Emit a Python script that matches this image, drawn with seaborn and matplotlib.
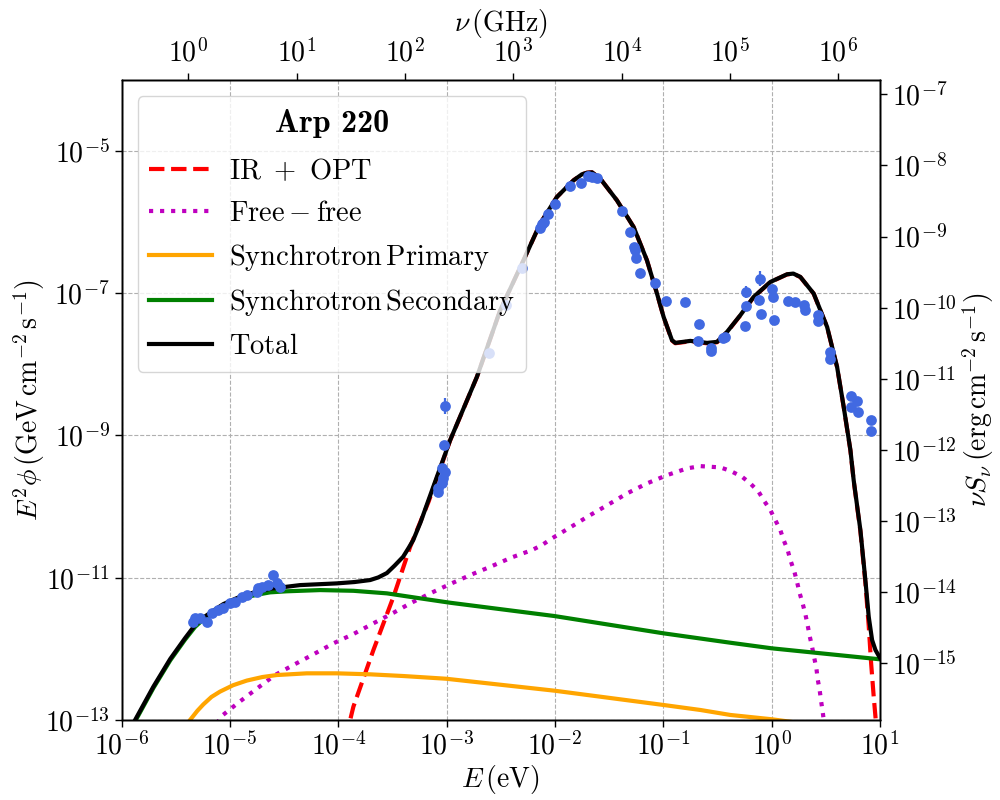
import numpy as np
import pandas as pd
import matplotlib
matplotlib.use("Agg")
import matplotlib.pyplot as plt
from matplotlib.ticker import FixedLocator, FuncFormatter, NullLocator
from matplotlib.font_manager import FontProperties
from matplotlib.offsetbox import DrawingArea
import seaborn as sns

# ---------------- values (log10 units) ----------------
# Total model
total_logE = [-6.0, -5.875, -5.706, -5.55, -5.414, -5.321, -5.245, -5.15, -5.060, -4.95,
              -4.844, -4.721, -4.629, -4.475, -4.352, -4.013, -3.85, -3.705, -3.63, -3.551,
              -3.48, -3.401, -3.35, -3.308, -3.24, -3.167, -2.967, -2.720, -2.505, -2.290,
              -2.136, -1.982, -1.828, -1.751, -1.705, -1.658, -1.582, -1.428, -1.274, -1.151,
              -1.058, -0.997, -0.920, -0.889, -0.751, -0.596, -0.504, -0.412, -0.289, -0.166,
              -0.012, 0.142, 0.200, 0.265, 0.388, 0.512, 0.604, 0.665, 0.727, 0.757,
              0.819, 0.865, 0.896, 0.927, 0.958, 1.0]
total_logF = [-13.35, -13.0, -12.531, -12.14, -11.85, -11.664, -11.560, -11.46, -11.37, -11.295,
              -11.23, -11.19, -11.155, -11.126, -11.103, -11.079, -11.06, -11.032, -10.995, -10.934,
              -10.83, -10.705, -10.58, -10.471, -10.22, -9.909, -9.066, -8.177, -7.240, -6.538,
              -6.022, -5.649, -5.414, -5.330, -5.308, -5.302, -5.390, -5.695, -6.070, -6.538,
              -7.006, -7.334, -7.661, -7.699, -7.671, -7.699, -7.685, -7.545, -7.310, -7.053,
              -6.843, -6.735, -6.725, -6.772, -7.006, -7.475, -8.037, -8.598, -9.206, -9.628,
              -10.330, -11.032, -11.548, -11.875, -12.015, -12.128]

# IR + OPT
ir_logE = [-3.95, -3.890, -3.860, -3.675, -3.490, -3.336, -3.167, -2.967, -2.720, -2.505,
           -2.290, -2.136, -1.982, -1.828, -1.751, -1.705, -1.658, -1.582, -1.428, -1.274,
           -1.151, -1.058, -0.997, -0.920, -0.889, -0.751, -0.596, -0.504, -0.412, -0.289,
           -0.166, -0.012, 0.142, 0.200, 0.265, 0.388, 0.512, 0.604, 0.665, 0.727,
           0.757, 0.819, 0.865, 0.896, 0.918, 0.942, 0.958, 0.975]
ir_logF = [-13.27, -13.0, -12.812, -12.015, -11.267, -10.565, -9.935, -9.070, -8.178, -7.241,
           -6.538, -6.022, -5.649, -5.414, -5.330, -5.308, -5.302, -5.390, -5.695, -6.070,
           -6.538, -7.006, -7.336, -7.665, -7.704, -7.677, -7.705, -7.690, -7.549, -7.313,
           -7.055, -6.845, -6.737, -6.727, -6.774, -7.008, -7.478, -8.040, -8.602, -9.212,
           -9.636, -10.345, -11.068, -11.680, -12.200, -12.671, -12.952, -13.25]

# Free-free
ff_logE = [-5.12, -5.075, -4.922, -4.752, -4.583, -4.414, -4.229, -4.044, -3.860, -3.675,
           -3.490, -3.336, -3.151, -2.967, -2.782, -2.597, -2.397, -2.212, -2.120, -2.028,
           -1.859, -1.690, -1.505, -1.335, -1.151, -0.966, -0.781, -0.658, -0.474, -0.381,
           -0.273, -0.197, -0.120, -0.074, -0.012, 0.034, 0.080, 0.111, 0.148, 0.173,
           0.210, 0.234, 0.259, 0.286, 0.311, 0.332, 0.351, 0.373, 0.394, 0.413,
           0.425, 0.443, 0.456, 0.471, 0.485]
ff_logF = [-13.05, -12.942, -12.756, -12.559, -12.367, -12.226, -12.076, -11.921, -11.791, -11.640,
           -11.492, -11.360, -11.219, -11.088, -10.962, -10.846, -10.713, -10.611, -10.541, -10.447,
           -10.292, -10.133, -9.969, -9.815, -9.674, -9.558, -9.463, -9.431, -9.449, -9.497,
           -9.581, -9.674, -9.792, -9.909, -10.049, -10.190, -10.330, -10.471, -10.611, -10.751,
           -10.916, -11.056, -11.219, -11.360, -11.510, -11.664, -11.819, -11.969, -12.132, -12.272,
           -12.427, -12.577, -12.728, -12.882, -13.05]

# Synchrotron primary
sp_logE = [-5.42, -5.368, -5.30, -5.245, -5.17, -5.091, -4.97, -4.844, -4.70, -4.567,
           -4.290, -4.013, -3.705, -3.398, -3.004, -2.004, -0.997, -0.658, -0.381, 0.004, 0.3]
sp_logF = [-13.12, -13.0, -12.87, -12.78, -12.675, -12.60, -12.51, -12.445, -12.395, -12.367,
           -12.343, -12.343, -12.357, -12.381, -12.419, -12.587, -12.788, -12.858, -12.928, -12.989,
           -13.05]

# Synchrotron secondary
ss_logE = [-6.0, -5.875, -5.706, -5.55, -5.414, -5.321, -5.245, -5.15, -5.06, -4.95,
           -4.844, -4.721, -4.629, -4.475, -4.167, -3.860, -3.551, -3.244, -2.967, -2.004,
           -0.997, -0.381, 0.004, 1.0]
ss_logF = [-13.37, -13.02, -12.55, -12.16, -11.87, -11.69, -11.585, -11.49, -11.40, -11.33,
           -11.27, -11.23, -11.205, -11.19, -11.173, -11.183, -11.219, -11.289, -11.351, -11.538,
           -11.781, -11.913, -11.992, -12.146]

# Observed data points (log10 E [eV], log10 E^2 phi [GeV cm^-2 s^-1], error in dex)
obs_logE = [-5.337, -5.321, -5.275, -5.213, -5.167, -5.106, -5.060, -4.998, -4.952, -4.890,
            -4.844, -4.752, -4.737, -4.705, -4.645, -4.598, -4.567, -4.536,
            -3.019, -3.022, -3.043, -3.013, -3.029, -3.043, -3.075, -3.082,
            -2.604, -2.450, -2.305,
            -2.142, -2.120, -2.099, -2.068, -1.997, -1.859, -1.757, -1.699, -1.658, -1.612,
            -1.385, -1.305, -1.274, -1.259, -1.256, -1.212, -1.081, -0.977, -0.803, -0.672,
            -0.681, -0.560, -0.560, -0.449, -0.428, -0.249, -0.240, -0.240, -0.111, -0.116,
            -0.098, 0.004, 0.013, 0.018, 0.148, 0.219, 0.295, 0.305, 0.425, 0.425,
            0.542, 0.542, 0.736, 0.791, 0.736, 0.794, 0.918, 0.918]
obs_logF = [-11.618, -11.570, -11.570, -11.618, -11.500, -11.454, -11.430, -11.360, -11.337, -11.267,
            -11.243, -11.197, -11.149, -11.126, -11.103, -10.962, -11.070, -11.126,
            -8.588, -9.136, -9.463, -9.511, -9.604, -9.674, -9.744, -9.796,
            -7.848, -7.170, -6.640,
            -6.079, -6.032, -6.000, -5.892, -5.751, -5.499, -5.447, -5.358, -5.368, -5.376,
            -5.850, -6.145, -6.351, -6.397, -6.500, -6.711, -6.864, -7.114, -7.131, -7.437,
            -7.676, -7.764, -7.812, -7.624, -7.615, -7.465, -7.174, -6.983, -6.795, -7.096,
            -7.287, -6.935, -7.058, -7.371, -7.110, -7.124, -7.170, -7.230, -7.310, -7.390,
            -7.826, -7.928, -8.444, -8.514, -8.607, -8.669, -8.789, -8.944]
obs_err_dex = [0.0] * 18 + [0.11] + [0.0] * 7 + [0.0] * 3 + \
              [0.0] * 27 + [0.08, 0.11] + [0.0] * 19

# Axis ticks / labels
x_ticks_eV = [1e-6, 1e-5, 1e-4, 1e-3, 1e-2, 1e-1, 1e0, 1e1]
y_ticks_GeV = [1e-13, 1e-11, 1e-9, 1e-7, 1e-5]
top_ticks_GHz = [1e0, 1e1, 1e2, 1e3, 1e4, 1e5, 1e6]
right_ticks_erg = [1e-15, 1e-14, 1e-13, 1e-12, 1e-11, 1e-10, 1e-9, 1e-8, 1e-7]
xlim_eV = (1e-6, 1e1)
ylim_GeV = (1e-13, 1e-4)
EV_TO_GHZ = 2.417989e5
GEV_TO_ERG = 1.602177e-3

legend_title = 'Arp 220'
labels = [r'$\mathrm{IR\ +\ OPT}$', r'$\mathrm{Free-free}$',
          r'$\mathrm{Synchrotron\,Primary}$', r'$\mathrm{Synchrotron\,Secondary}$',
          r'$\mathrm{Total}$']

# ---------------- build tables ----------------
def curve(logE, logF):
    return pd.DataFrame({'E': 10 ** np.asarray(logE), 'F': 10 ** np.asarray(logF)})

df_ir = curve(ir_logE, ir_logF)
df_ff = curve(ff_logE, ff_logF)
df_sp = curve(sp_logE, sp_logF)
df_ss = curve(ss_logE, ss_logF)
df_tot = curve(total_logE, total_logF)
obs = pd.DataFrame({'E': 10 ** np.asarray(obs_logE), 'F': 10 ** np.asarray(obs_logF),
                    'err': np.asarray(obs_err_dex)})

# ---------------- style ----------------
plt.rcParams['mathtext.fontset'] = 'cm'
plt.rcParams['font.family'] = ['DejaVu Serif']
plt.rcParams['axes.linewidth'] = 1.0

fig = plt.figure(figsize=(10, 8), dpi=100)
ax = fig.add_axes([0.1215, 0.0999, 0.7585, 0.8005])
ax.set_xscale('log')
ax.set_yscale('log')

lw = 3.0
sns.lineplot(data=df_ir, x='E', y='F', ax=ax, color='red', lw=lw, linestyle='--',
             sort=False, estimator=None, label=labels[0], zorder=2)
sns.lineplot(data=df_ff, x='E', y='F', ax=ax, color='m', lw=lw, linestyle=':',
             sort=False, estimator=None, label=labels[1], zorder=2)
sns.lineplot(data=df_sp, x='E', y='F', ax=ax, color='orange', lw=lw,
             sort=False, estimator=None, label=labels[2], zorder=2)
sns.lineplot(data=df_ss, x='E', y='F', ax=ax, color='green', lw=lw,
             sort=False, estimator=None, label=labels[3], zorder=2)
sns.lineplot(data=df_tot, x='E', y='F', ax=ax, color='black', lw=lw,
             sort=False, estimator=None, label=labels[4], zorder=2.1)

has_err = obs['err'] > 0
eb = obs[has_err]
ax.errorbar(eb['E'], eb['F'],
            yerr=[eb['F'] - eb['F'] / 10 ** eb['err'], eb['F'] * 10 ** eb['err'] - eb['F']],
            fmt='none', ecolor='royalblue', elinewidth=1.6, zorder=3)
sns.scatterplot(data=obs, x='E', y='F', ax=ax, color='royalblue', s=60,
                linewidth=0, zorder=3, legend=False)

ax.set_xlim(*xlim_eV)
ax.set_ylim(*ylim_GeV)

def pow10(v, pos):
    return r'$10^{%d}$' % int(round(np.log10(v)))

fmt = FuncFormatter(pow10)
ax.xaxis.set_major_locator(FixedLocator(x_ticks_eV))
ax.yaxis.set_major_locator(FixedLocator(y_ticks_GeV))
ax.xaxis.set_minor_locator(NullLocator())
ax.yaxis.set_minor_locator(NullLocator())
ax.xaxis.set_major_formatter(fmt)
ax.yaxis.set_major_formatter(fmt)
ax.tick_params(axis='both', which='major', labelsize=20, length=5, width=1)
ax.grid(True, which='major', linestyle='--', color='#b0b0b0', linewidth=0.8)
ax.set_axisbelow(True)
ax.set_xlabel(r'$E\,(\mathrm{eV})$', fontsize=20, labelpad=2)
ax.set_ylabel(r'$E^2\phi\,(\mathrm{GeV\,cm^{-2}\,s^{-1}})$', fontsize=20, labelpad=-1.5)

# top axis: frequency
ax_top = ax.twiny()
ax_top.set_xscale('log')
ax_top.set_xlim(xlim_eV[0] * EV_TO_GHZ, xlim_eV[1] * EV_TO_GHZ)
ax_top.xaxis.set_major_locator(FixedLocator(top_ticks_GHz))
ax_top.xaxis.set_minor_locator(NullLocator())
ax_top.xaxis.set_major_formatter(fmt)
ax_top.tick_params(axis='x', labelsize=20, length=5, width=1)
ax_top.set_xlabel(r'$\nu\,(\mathrm{GHz})$', fontsize=20, labelpad=6)

# right axis: erg units
ax_r = ax.twinx()
ax_r.set_yscale('log')
ax_r.set_ylim(ylim_GeV[0] * GEV_TO_ERG, ylim_GeV[1] * GEV_TO_ERG)
ax_r.yaxis.set_major_locator(FixedLocator(right_ticks_erg))
ax_r.yaxis.set_minor_locator(NullLocator())
ax_r.yaxis.set_major_formatter(fmt)
ax_r.tick_params(axis='y', labelsize=20, length=5, width=1)
ax_r.set_ylabel(r'$\nu S_\nu\,(\mathrm{erg\,cm^{-2}\,s^{-1}})$', fontsize=20, labelpad=2.5)

handles, labs = ax.get_legend_handles_labels()
leg = ax.legend(handles, labs, loc='upper left', fontsize=20.5,
                title=legend_title,
                title_fontproperties=FontProperties(family='cmb10', size=23),
                framealpha=0.8, handlelength=2.2, handletextpad=0.62,
                labelspacing=0.52, borderaxespad=0.57)
leg.set_zorder(10)

# extra vertical room between the legend title and the entries
try:
    box = leg._legend_box
    kids = list(box.get_children())
    if len(kids) == 2:
        sep_pt = box.sep
        box.sep = 0
        box._children = [DrawingArea(0, 1.4), kids[0], DrawingArea(0, sep_pt + 3.6), kids[1]]
        box.set_figure(fig)
except Exception:
    pass

fig.savefig('out.png', dpi=100)
